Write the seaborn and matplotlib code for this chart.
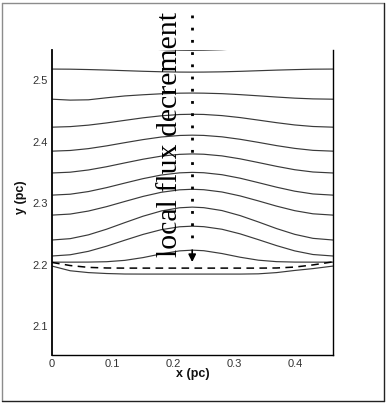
import matplotlib
matplotlib.use('Agg')
import matplotlib.pyplot as plt
from matplotlib.lines import Line2D
from matplotlib.ticker import MultipleLocator
import seaborn as sns

# sample positions along x (pc)
x_pos = [0, 0.03, 0.06, 0.09, 0.12, 0.15, 0.18, 0.21, 0.231, 0.25,
         0.28, 0.31, 0.34, 0.37, 0.40, 0.43, 0.463]

# contour lines, top to bottom (y in pc)
line_00 = [2.5585, 2.5581, 2.5569, 2.5552, 2.5532, 2.5513, 2.5497, 2.5487, 2.5485,
           2.5487, 2.5495, 2.5511, 2.5530, 2.5550, 2.5568, 2.5580, 2.5585]
line_01 = [2.518, 2.5178, 2.5172, 2.5164, 2.5154, 2.5144, 2.5136, 2.5131, 2.513,
           2.5131, 2.5135, 2.5143, 2.5153, 2.5163, 2.5171, 2.5178, 2.518]
line_02 = [2.469, 2.4675, 2.4680, 2.4713, 2.4743, 2.4762, 2.4778, 2.4788, 2.479,
           2.4788, 2.478, 2.4764, 2.4745, 2.4725, 2.4707, 2.4695, 2.469]
line_03 = [2.4235, 2.4244, 2.4268, 2.4304, 2.4346, 2.4387, 2.4420, 2.4441, 2.4445,
           2.4442, 2.4423, 2.4391, 2.4350, 2.4308, 2.4271, 2.4246, 2.4235]
line_04 = [2.3845, 2.3856, 2.3886, 2.3931, 2.3983, 2.4033, 2.4075, 2.4100, 2.4105,
           2.4101, 2.4078, 2.4038, 2.3988, 2.3935, 2.3890, 2.3858, 2.3845]
line_05 = [2.349, 2.3503, 2.3539, 2.3592, 2.3654, 2.3714, 2.3764, 2.3793, 2.380,
           2.3795, 2.3768, 2.3720, 2.3660, 2.3598, 2.3543, 2.3506, 2.349]
line_06 = [2.313, 2.3145, 2.3188, 2.3252, 2.3326, 2.3398, 2.3457, 2.3492, 2.350,
           2.3494, 2.3462, 2.3405, 2.3333, 2.3259, 2.3194, 2.3149, 2.313]
line_07 = [2.2805, 2.2822, 2.2871, 2.2943, 2.3027, 2.3109, 2.3176, 2.3216, 2.3225,
           2.3218, 2.3181, 2.3117, 2.3036, 2.2951, 2.2877, 2.2826, 2.2805]
line_08 = [2.240, 2.2422, 2.2484, 2.2576, 2.2683, 2.2787, 2.2872, 2.2924, 2.2935,
           2.2926, 2.2879, 2.2797, 2.2694, 2.2586, 2.2492, 2.2427, 2.240]
line_09 = [2.214, 2.216, 2.2216, 2.230, 2.2397, 2.2491, 2.2568, 2.2615, 2.2625,
           2.2617, 2.2575, 2.250, 2.2406, 2.2309, 2.2223, 2.2164, 2.214]
line_10 = [2.204, 2.204, 2.2041, 2.2047, 2.2069, 2.2114, 2.2174, 2.2223, 2.2235,
           2.2226, 2.218, 2.212, 2.2072, 2.2048, 2.2041, 2.204, 2.204]
line_11 = [2.1976, 2.190, 2.187, 2.1855, 2.1847, 2.1846, 2.1846, 2.1846, 2.1846,
           2.1846, 2.1846, 2.1846, 2.1850, 2.1870, 2.1905, 2.1935, 2.1976]
contours = [line_00, line_01, line_02, line_03, line_04, line_05,
            line_06, line_07, line_08, line_09, line_10, line_11]

# initial interface (dashed)
interface = [2.2035, 2.1985, 2.1955, 2.1945, 2.1943, 2.1943, 2.1943, 2.1943, 2.1943,
             2.1943, 2.1943, 2.1943, 2.1943, 2.1945, 2.1960, 2.1995, 2.2045]

x_ticks = [0, 0.1, 0.2, 0.3, 0.4]
x_tick_labels = ['0', '0.1', '0.2', '0.3', '0.4']
y_ticks = [2.1, 2.2, 2.3, 2.4, 2.5]
y_tick_labels = ['2.1', '2.2', '2.3', '2.4', '2.5']
x_range = (0, 0.463)
y_range = (2.053, 2.549)

# annotation
note_text = 'local flux decrement'
note_x, note_y = 0.206, 2.412
arrow_x = 0.231
arrow_top, arrow_shaft, arrow_tip = 2.606, 2.2236, 2.2041

sns.set_style('white')
plt.rcParams['font.family'] = ['Liberation Sans', 'DejaVu Sans']

fig = plt.figure(figsize=(3.86, 4.03), dpi=100)
ax = fig.add_axes([52 / 386, 1 - 355 / 403, 281 / 386, 305 / 403])

for ys in contours:
    sns.lineplot(x=x_pos, y=ys, ax=ax, color='#3a3a3a', linewidth=0.85, sort=False)
sns.lineplot(x=x_pos, y=interface, ax=ax, color='black', linewidth=1.1, sort=False,
             linestyle=(0, (5, 3.5)))

# dotted guide + arrow
ax.plot([arrow_x, arrow_x], [arrow_top, arrow_shaft + 0.015], color='black',
        linewidth=2.0, linestyle=(0, (1, 3.4)), dash_capstyle='butt', clip_on=False)
ax.annotate('', xy=(arrow_x, arrow_tip), xytext=(arrow_x, arrow_shaft),
            arrowprops=dict(arrowstyle='-|>', color='black', lw=1.2, mutation_scale=11,
                            shrinkA=0, shrinkB=0),
            annotation_clip=False)
ax.text(note_x, note_y, note_text, rotation=90, rotation_mode='anchor',
        ha='center', va='baseline', fontsize=21.5, family='Liberation Serif',
        color='black')

ax.set_xlim(*x_range)
ax.set_ylim(*y_range)
ax.set_xticks(x_ticks)
ax.set_xticklabels(x_tick_labels)
ax.set_yticks(y_ticks)
ax.set_yticklabels(y_tick_labels)
ax.xaxis.set_minor_locator(MultipleLocator(0.02))
ax.yaxis.set_minor_locator(MultipleLocator(0.02))
ax.tick_params(which='major', direction='in', length=4.5, width=1.0, color='black',
               labelsize=8, labelcolor='#333333', pad=3, top=False, right=False)
ax.tick_params(which='minor', direction='in', length=2.5, width=0.8, color='black',
               top=False, right=False)

for side in ['left', 'right', 'bottom']:
    ax.spines[side].set_visible(True)
    ax.spines[side].set_color('black')
ax.spines['left'].set_linewidth(1.3)
ax.spines['right'].set_linewidth(1.0)
ax.spines['bottom'].set_linewidth(1.0)
ax.spines['top'].set_visible(False)

ax.set_xlabel('x (pc)', fontsize=9, fontweight='bold', color='#111111')
ax.set_ylabel('y (pc)', fontsize=9, fontweight='bold', color='#111111')
ax.xaxis.set_label_coords(0.5, -0.043)
ax.yaxis.set_label_coords(-0.089, 0.518)

# outer frame
frame = [((1.5 / 386, 1.5 / 386), (1 - 400.5 / 403, 1 - 2.5 / 403), '#8c8c8c'),
         ((1.5 / 386, 383.5 / 386), (1 - 2.5 / 403, 1 - 2.5 / 403), '#8c8c8c'),
         ((383.5 / 386, 383.5 / 386), (1 - 400.5 / 403, 1 - 2.5 / 403), '#222222'),
         ((1.5 / 386, 383.5 / 386), (1 - 400.5 / 403, 1 - 400.5 / 403), '#222222')]
for xs, ys, c in frame:
    fig.add_artist(Line2D(xs, ys, transform=fig.transFigure, color=c, linewidth=1.0))

fig.savefig('out.png', dpi=100)
